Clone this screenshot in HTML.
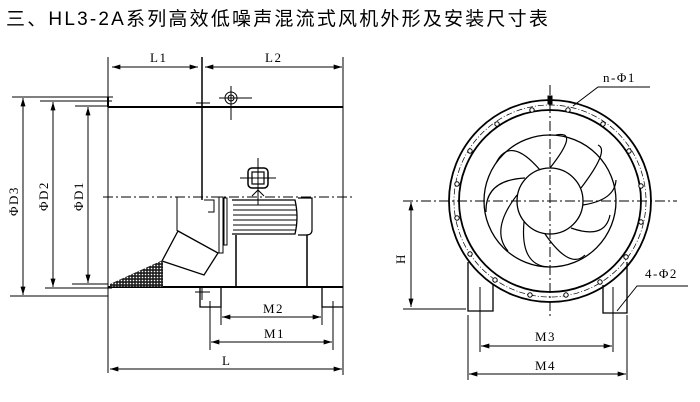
<!DOCTYPE html>
<html><head><meta charset="utf-8"><style>
html,body{margin:0;padding:0;background:#fff;}
svg{display:block}
text{font-family:"Liberation Serif",serif;fill:#000}
</style></head><body>
<svg width="700" height="402" viewBox="0 0 700 402" xmlns="http://www.w3.org/2000/svg">
<defs>
<marker id="a" viewBox="0 0 10 6" refX="10" refY="3" markerWidth="9" markerHeight="5" orient="auto-start-reverse"><path d="M0,0L10,3L0,6z" fill="#000"/></marker>
<pattern id="h" width="3" height="3" patternUnits="userSpaceOnUse"><rect width="3" height="3" fill="#222"/><circle cx="1.5" cy="1.5" r="0.8" fill="#fff"/></pattern>
</defs>
<text x="6" y="25" style='font-family:"Liberation Sans","Noto Sans CJK SC",sans-serif;font-size:19px;letter-spacing:2.2px'>三、HL3-2A系列高效低噪声混流式风机外形及安装尺寸表</text>

<g stroke="#000" fill="none" stroke-width="1">
<line x1="108" y1="57" x2="108" y2="373"/>
<line x1="202" y1="57" x2="202" y2="200" stroke-width="1.5"/>
<line x1="343" y1="57" x2="343" y2="375"/>
<line x1="108" y1="107" x2="343" y2="107" stroke-width="2"/>
<line x1="108" y1="287" x2="343" y2="287" stroke-width="2"/>
<line x1="108" y1="97" x2="113" y2="97"/><line x1="108" y1="97" x2="108" y2="107" stroke-width="2"/>
<line x1="103" y1="197" x2="352" y2="197" stroke-dasharray="10,3,2,3"/>
<line x1="12" y1="97" x2="108" y2="97"/><line x1="10" y1="296" x2="108" y2="296"/>
<line x1="40" y1="101" x2="112" y2="101"/><line x1="45" y1="288" x2="112" y2="288"/>
<line x1="75" y1="106" x2="108" y2="106"/><line x1="72" y1="284" x2="108" y2="284"/>
<line x1="23" y1="98" x2="23" y2="295" marker-start="url(#a)" marker-end="url(#a)"/>
<line x1="53" y1="102" x2="53" y2="287" marker-start="url(#a)" marker-end="url(#a)"/>
<line x1="88" y1="107" x2="88" y2="283" marker-start="url(#a)" marker-end="url(#a)"/>
<line x1="112" y1="67" x2="198" y2="67" marker-start="url(#a)" marker-end="url(#a)"/>
<line x1="205" y1="67" x2="342" y2="67" marker-start="url(#a)" marker-end="url(#a)"/>
<circle cx="231" cy="98" r="6"/><circle cx="231" cy="98" r="3"/>
<line x1="219" y1="98" x2="252" y2="98"/><line x1="231" y1="86" x2="231" y2="120"/>
<line x1="196" y1="103" x2="210" y2="103"/>
<rect x="248" y="168" width="20" height="20" rx="4" stroke-width="1.5"/>
<rect x="252" y="172" width="12" height="12" stroke-width="1.2"/>
<line x1="240" y1="178" x2="276" y2="178"/><line x1="258" y1="158" x2="258" y2="205"/>
<path d="M252,196 L258,190 L264,196"/>
<path d="M232,200 H295 Q299,217 295,234 H232" stroke-width="1.3"/>
<line x1="233" y1="205" x2="296" y2="205"/><line x1="233" y1="210" x2="297" y2="210"/>
<line x1="233" y1="215" x2="297" y2="215"/><line x1="233" y1="220" x2="297" y2="220"/>
<line x1="233" y1="225" x2="297" y2="225"/><line x1="233" y1="230" x2="296" y2="230"/>
<path d="M298,198 H312 V230 Q312,235 306,235 H298" stroke-width="1.2"/>
<line x1="236" y1="235" x2="236" y2="287" stroke-width="1.5"/>
<line x1="307" y1="235" x2="307" y2="287" stroke-width="1.5"/>
<rect x="219" y="197" width="4" height="56"/><rect x="224" y="198" width="3" height="47"/>
<path d="M204,200 H214 V212 H208"/>
<line x1="177" y1="197" x2="177" y2="231"/>
<polygon points="178,231 218,253 204,275 162,261" stroke-width="1.3"/>
<polygon points="110,284 163,260 163,287 110,287" fill="url(#h)" stroke="none"/>
<line x1="110" y1="287" x2="163" y2="287"/>
<path d="M200,287 V307 H221 V287" stroke-width="1.3"/>
<path d="M322,287 V307 H343" stroke-width="1.3"/>
<line x1="195" y1="292" x2="210" y2="292"/><line x1="202" y1="287" x2="202" y2="300"/>
<line x1="210" y1="301" x2="210" y2="350"/><line x1="221" y1="307" x2="221" y2="325"/>
<line x1="322" y1="307" x2="322" y2="325"/><line x1="333" y1="301" x2="333" y2="350"/>
<line x1="222" y1="317" x2="321" y2="317" marker-start="url(#a)" marker-end="url(#a)"/>
<line x1="211" y1="342" x2="332" y2="342" marker-start="url(#a)" marker-end="url(#a)"/>
<line x1="110" y1="369" x2="342" y2="369" marker-start="url(#a)" marker-end="url(#a)"/>

<circle cx="550" cy="201" r="101" stroke-width="1.8"/>
<circle cx="550" cy="201" r="91" stroke-width="1.8"/>
<circle cx="550" cy="201" r="96" stroke-dasharray="6,2,1,2" stroke-width="0.7"/>
<circle cx="550" cy="201" r="66" stroke-width="1.3"/>
<circle cx="550" cy="201" r="33" stroke-width="1.3"/>
<g stroke-width="1.2">
<path d="M550,168 Q580,130 556,135"/>
<path d="M581,188 Q610,150 598,145"/>
<path d="M583,205 Q615,200 616,180"/>
<path d="M571,228 Q605,240 610,215"/>
<path d="M545,234 Q570,270 585,255"/>
<path d="M524,222 Q520,265 548,267"/>
<path d="M517,195 Q490,230 508,251"/>
<path d="M525,178 Q485,180 486,212"/>
<path d="M540,170 Q510,135 496,163"/>
</g>
<line x1="403" y1="201" x2="677" y2="201" stroke-dasharray="10,3,2,3"/>
<line x1="550" y1="85" x2="550" y2="316" stroke-dasharray="10,3,2,3"/>
<rect x="548" y="96" width="4" height="8" fill="#000"/>
<path d="M468,262 V311 H493 V285" stroke-width="1.3"/>
<path d="M627,262 V313 H603 V285" stroke-width="1.3"/>
<line x1="480" y1="287" x2="480" y2="352"/><line x1="613" y1="287" x2="613" y2="352"/>
<line x1="468" y1="315" x2="468" y2="380"/><line x1="627" y1="315" x2="627" y2="380"/>
<line x1="403" y1="309" x2="466" y2="309"/>
<line x1="411" y1="202" x2="411" y2="307" marker-start="url(#a)" marker-end="url(#a)"/>
<line x1="481" y1="346" x2="612" y2="346" marker-start="url(#a)" marker-end="url(#a)"/>
<line x1="469" y1="374" x2="626" y2="374" marker-start="url(#a)" marker-end="url(#a)"/>
<path d="M573,106 L598,87 H650"/>
<path d="M617,311 L637,286 H688"/>
</g>
<g fill="#fff" stroke="#000" stroke-width="1">
<circle cx="532" cy="110" r="2.2"/><circle cx="568" cy="110" r="2.2"/>
<circle cx="497" cy="124" r="2.2"/><circle cx="603" cy="124" r="2.2"/>
<circle cx="470" cy="151" r="2.2"/><circle cx="629" cy="151" r="2.2"/>
<circle cx="457" cy="184" r="2.2"/><circle cx="641" cy="186" r="2.2"/>
<circle cx="457" cy="218" r="2.2"/><circle cx="641" cy="222" r="2.2"/>
<circle cx="470" cy="254" r="2.2"/><circle cx="626" cy="257" r="2.2"/>
<circle cx="495" cy="280" r="2.2"/><circle cx="600" cy="282" r="2.2"/>
<circle cx="530" cy="295" r="2.2"/><circle cx="566" cy="295" r="2.2"/>
</g>
<g font-size="13" style="letter-spacing:1.5px">
<text x="150" y="62">L1</text><text x="265" y="62">L2</text>
<text transform="translate(18,216) rotate(-90)">ΦD3</text>
<text transform="translate(48,211) rotate(-90)">ΦD2</text>
<text transform="translate(83,211) rotate(-90)">ΦD1</text>
<text x="263" y="313">M2</text><text x="264" y="338">M1</text><text x="222" y="365">L</text>
<text transform="translate(405,264) rotate(-90)">H</text>
<text x="535" y="341">M3</text><text x="535" y="370">M4</text>
<text x="603" y="82">n-Φ1</text><text x="645" y="278">4-Φ2</text>
</g>
</svg>
</body></html>
